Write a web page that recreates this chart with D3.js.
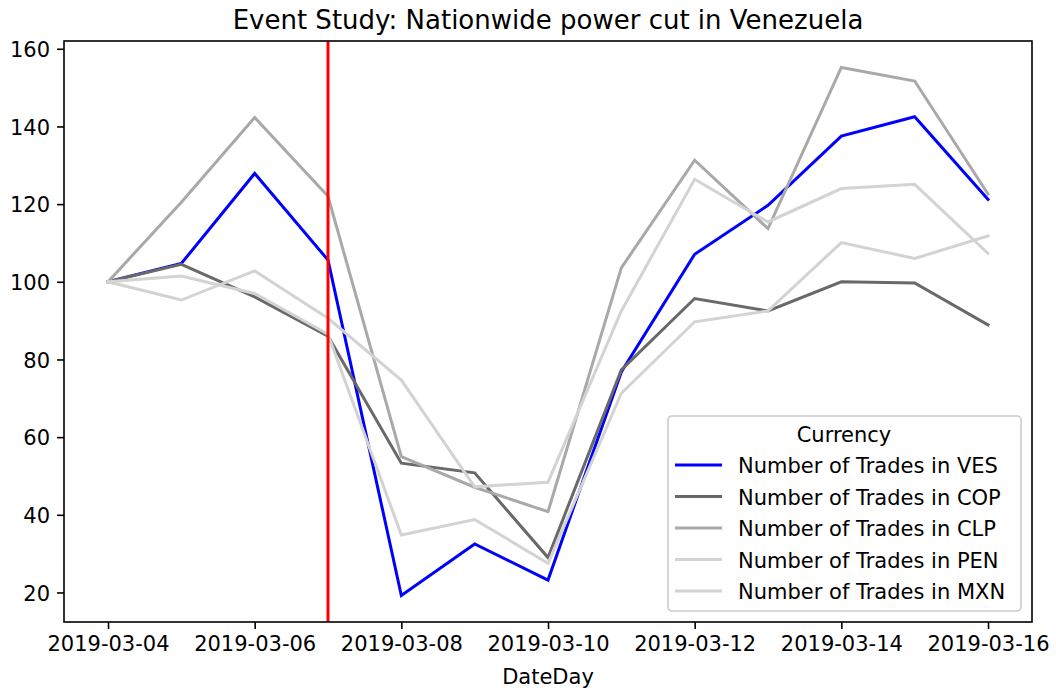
<!DOCTYPE html>
<html>
<head>
<meta charset="utf-8">
<script src="https://cdn.jsdelivr.net/npm/d3@7"></script>
<style>
  html, body { margin: 0; padding: 0; background: #fff; }
  svg { display: block; font-family: 'DejaVu Sans', sans-serif; }
</style>
</head>
<body>
<div id="chart"></div>
<script>
const dates = ['2019-03-04', '2019-03-05', '2019-03-06', '2019-03-07', '2019-03-08', '2019-03-09',
  '2019-03-10', '2019-03-11', '2019-03-12', '2019-03-13', '2019-03-14', '2019-03-15', '2019-03-16'];

const tradesVES = [100, 104.7, 127.9, 105.6, 19.2, 32.5, 23.2, 76.8, 107.1, 119.7, 137.5, 142.5, 121.2];
const tradesCOP = [100, 104.5, 96.1, 86.0, 53.3, 50.8, 29.0, 77.3, 95.7, 92.5, 100.0, 99.7, 88.9];
const tradesCLP = [100, 120.5, 142.3, 122.0, 55.0, 47.1, 40.8, 103.6, 131.3, 113.7, 155.2, 151.7, 122.6];
const tradesPEN = [100, 101.5, 97.0, 86.5, 34.8, 38.8, 27.5, 71.3, 89.7, 92.5, 110.1, 106.0, 111.8];
const tradesMXN = [100, 95.3, 102.8, 90.6, 74.7, 47.2, 48.4, 92.5, 126.4, 115.4, 124.0, 125.1, 107.3];

const seriesNames = ['Number of Trades in VES', 'Number of Trades in COP', 'Number of Trades in CLP',
  'Number of Trades in PEN', 'Number of Trades in MXN'];
const seriesColors = ['#0000ff', '#696969', '#a9a9a9', '#d3d3d3', '#d3d3d3'];

const eventDate = '2019-03-07';
const xTickDates = ['2019-03-04', '2019-03-06', '2019-03-08', '2019-03-10', '2019-03-12', '2019-03-14', '2019-03-16'];
const yTicks = [20, 40, 60, 80, 100, 120, 140, 160];

const width = 1056;
const height = 690;
const margin = { top: 41, right: 24, bottom: 68, left: 64 };
const fontSize = 21;

const parseDay = d3.utcParse('%Y-%m-%d');
const formatDay = d3.utcFormat('%Y-%m-%d');

const allSeries = [tradesVES, tradesCOP, tradesCLP, tradesPEN, tradesMXN];

function paddedExtent(extent) {
  const pad = (extent[1] - extent[0]) * 0.05;
  return [extent[0] - pad, extent[1] + pad];
}

const dayValues = dates.map(parseDay);
const xExtent = d3.extent(dayValues).map(d => +d);
const yExtent = d3.extent(allSeries.flat());

const x = d3.scaleUtc()
  .domain(paddedExtent(xExtent))
  .range([margin.left, width - margin.right]);

const y = d3.scaleLinear()
  .domain(paddedExtent(yExtent))
  .range([height - margin.bottom, margin.top]);

const svg = d3.select('#chart').append('svg')
  .attr('width', width)
  .attr('height', height)
  .attr('viewBox', `0 0 ${width} ${height}`);

// title
svg.append('text')
  .attr('x', (margin.left + width - margin.right) / 2)
  .attr('y', 29)
  .attr('text-anchor', 'middle')
  .style('font-size', '26px')
  .style('fill', '#000')
  .text('Event Study: Nationwide power cut in Venezuela');

const plot = svg.append('g');

const line = d3.line()
  .x((d, i) => x(dayValues[i]))
  .y(d => y(d));

plot.selectAll('path.series')
  .data(allSeries)
  .enter()
  .append('path')
  .attr('class', 'series')
  .attr('d', d => line(d))
  .attr('fill', 'none')
  .attr('stroke', (d, i) => seriesColors[i])
  .attr('stroke-width', 3)
  .attr('stroke-linejoin', 'miter')
  .attr('stroke-linecap', 'square');

// event marker
plot.append('line')
  .attr('x1', x(parseDay(eventDate)))
  .attr('x2', x(parseDay(eventDate)))
  .attr('y1', margin.top)
  .attr('y2', height - margin.bottom)
  .attr('stroke', '#ff0000')
  .attr('stroke-width', 3);

// axes
const xAxis = d3.axisBottom(x)
  .tickValues(xTickDates.map(parseDay))
  .tickFormat(formatDay)
  .tickSizeInner(7)
  .tickSizeOuter(0)
  .tickPadding(7);

const yAxis = d3.axisLeft(y)
  .tickValues(yTicks)
  .tickSizeInner(7)
  .tickSizeOuter(0)
  .tickPadding(7);

const gx = svg.append('g')
  .attr('transform', `translate(0,${height - margin.bottom})`)
  .call(xAxis);

const gy = svg.append('g')
  .attr('transform', `translate(${margin.left},0)`)
  .call(yAxis);

[gx, gy].forEach(g => {
  g.select('.domain').remove();
  g.selectAll('.tick line').attr('stroke', '#000').attr('stroke-width', 1.6);
  g.selectAll('.tick text')
    .style('font-size', `${fontSize}px`)
    .style('font-family', "'DejaVu Sans', sans-serif")
    .attr('fill', '#000');
});

gy.selectAll('.tick text').attr('dy', '0.36em');

svg.append('text')
  .attr('x', (margin.left + width - margin.right) / 2)
  .attr('y', 684)
  .attr('text-anchor', 'middle')
  .style('font-size', `${fontSize}px`)
  .text('DateDay');

// frame
svg.append('rect')
  .attr('x', margin.left)
  .attr('y', margin.top)
  .attr('width', width - margin.left - margin.right)
  .attr('height', height - margin.top - margin.bottom)
  .attr('fill', 'none')
  .attr('stroke', '#000')
  .attr('stroke-width', 1.6);

// legend
const legend = svg.append('g').attr('transform', 'translate(668,416)');

legend.append('rect')
  .attr('width', 353)
  .attr('height', 195)
  .attr('rx', 4)
  .attr('fill', '#fff')
  .attr('fill-opacity', 0.8)
  .attr('stroke', '#cccccc')
  .attr('stroke-width', 1.6);

legend.append('text')
  .attr('x', 176)
  .attr('y', 26)
  .attr('text-anchor', 'middle')
  .style('font-size', `${fontSize}px`)
  .text('Currency');

const entry = legend.selectAll('g.entry')
  .data(seriesNames)
  .enter()
  .append('g')
  .attr('class', 'entry')
  .attr('transform', (d, i) => `translate(0,${57 + i * 31.5})`);

entry.append('line')
  .attr('x1', 7)
  .attr('x2', 54)
  .attr('y1', -8)
  .attr('y2', -8)
  .attr('stroke', (d, i) => seriesColors[i])
  .attr('stroke-width', 3);

entry.append('text')
  .attr('x', 70)
  .attr('y', 0)
  .style('font-size', `${fontSize}px`)
  .text(d => d);
</script>
</body>
</html>
